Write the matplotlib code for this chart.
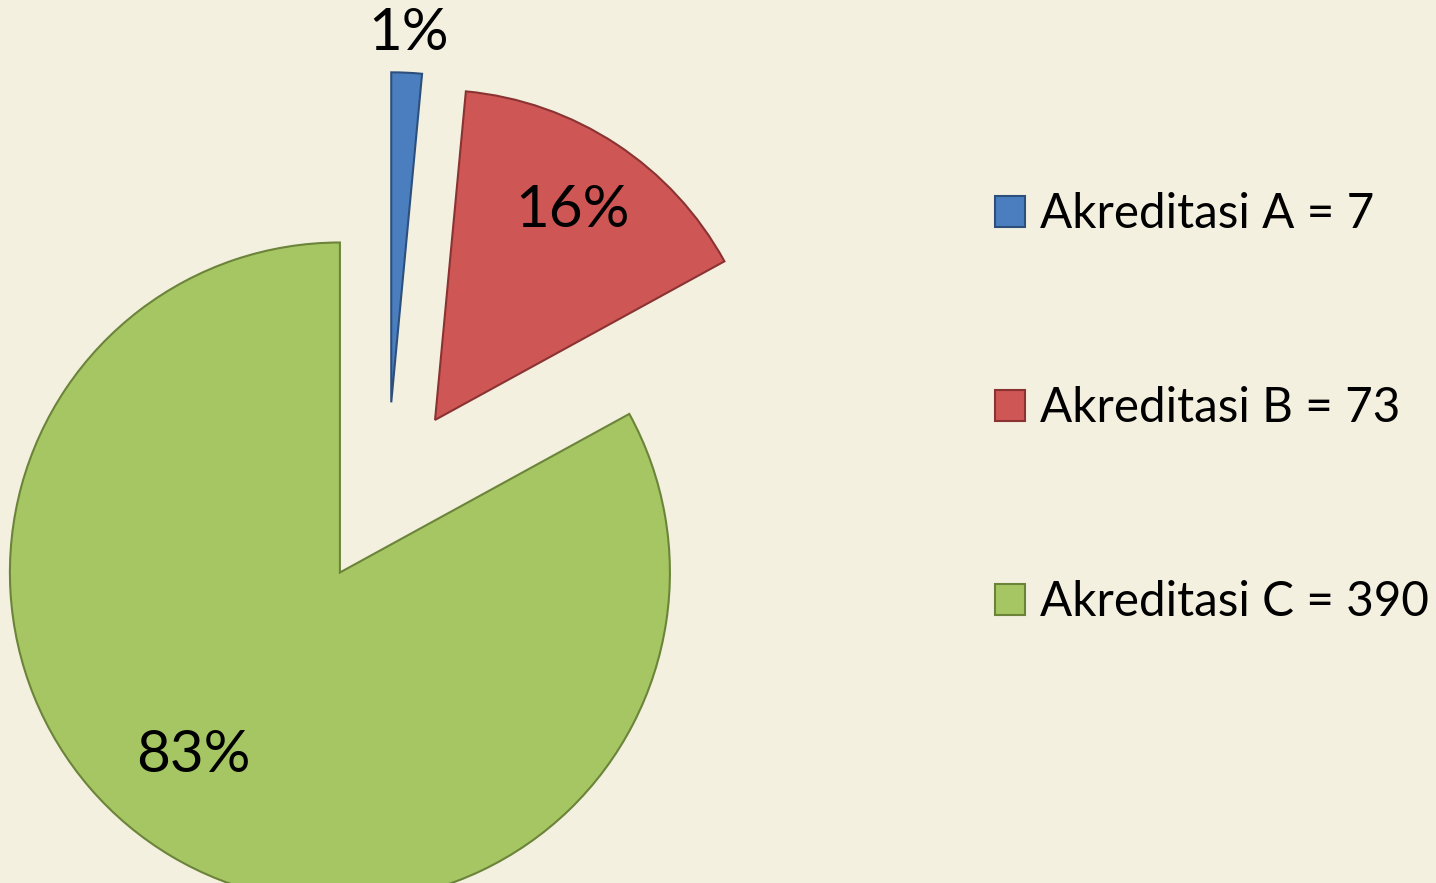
import numpy as np
import matplotlib
matplotlib.use('Agg')
import matplotlib.pyplot as plt

labels = ['Akreditasi A = 7', 'Akreditasi B = 73', 'Akreditasi C = 390']
values = [7, 73, 390]
colors = ['#4A7EBF', '#CE5655', '#A6C663']
edge_colors = ['#2C4F7C', '#8A3332', '#6B8439']
explode_frac = [0.275, 0.265, 0.28]
pct_dist = [1.12, 0.76, 0.71]
pct_angle_shift = [0, 0, -8]

plt.rcParams['font.family'] = ['Lato', 'DejaVu Sans']
bg = '#F3F0E0'

fig = plt.figure(figsize=(14.36, 8.83), dpi=100)
fig.patch.set_facecolor(bg)
ax = fig.add_axes([0, 0, 1, 1])
ax.set_facecolor(bg)

R = 330
# matplotlib applies explode in data units, so scale by the radius
wedges, _ = ax.pie(values, explode=[e * R for e in explode_frac], colors=colors,
                   startangle=90, counterclock=False, radius=R, center=(387, 390),
                   wedgeprops=dict(linewidth=1.5))

for w, ec, d, da, v in zip(wedges, edge_colors, pct_dist, pct_angle_shift, values):
    w.set_edgecolor(ec)
    cx, cy = w.center
    mid = np.deg2rad((w.theta1 + w.theta2) / 2 + da)
    pct = 100 * v / sum(values)
    ax.text(cx + d * w.r * np.cos(mid), cy + d * w.r * np.sin(mid),
            f'{pct:.0f}%', ha='center', va='center', fontsize=42, color='black')

ax.set_aspect('equal')
ax.set_xlim(0, 1436)
ax.set_ylim(0, 883)
ax.axis('off')

ax.legend(wedges, labels, loc='center left', bbox_to_anchor=(995 / 1436, 1 - 408 / 883),
          frameon=False, fontsize=34.3, handlelength=0.62, handleheight=0.62,
          handletextpad=0.32, labelspacing=3.15, borderpad=0, borderaxespad=0)

fig.savefig('out.png', dpi=100, facecolor=bg)
